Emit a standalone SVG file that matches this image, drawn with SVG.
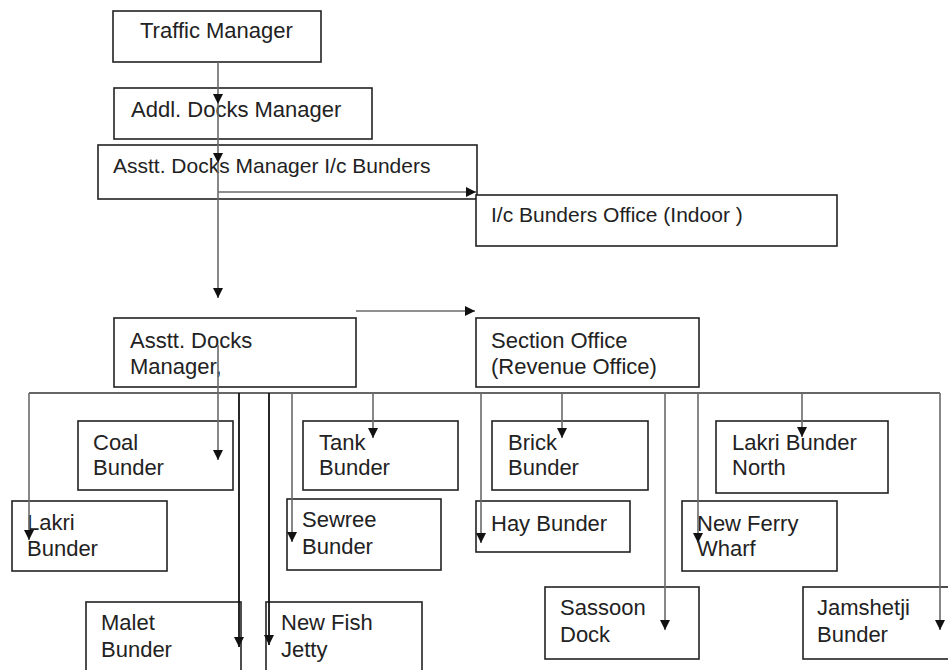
<svg xmlns="http://www.w3.org/2000/svg" width="948" height="670" viewBox="0 0 948 670">
<style>
rect.b{fill:#fff;stroke:#222;stroke-width:1.6}
text{font-family:"Liberation Sans",Arial,sans-serif;font-size:22px;fill:#222}
text.s{font-size:21px}
.c line{stroke:#6a6a6a;stroke-width:1.6;fill:none}
.c line.k{stroke:#111;stroke-width:1.8}
.c line.bus{stroke:#333;stroke-width:1.6}
</style>
<defs>
<marker id="ah" markerUnits="userSpaceOnUse" markerWidth="10" markerHeight="10" refX="10" refY="5" orient="auto">
<path d="M0,0 L10,5 L0,10 z" fill="#111"/>
</marker>
</defs>
<rect width="948" height="670" fill="#fff"/>
<g id="traffic-manager"><rect class="b" x="113" y="11" width="208" height="51"/><text x="140" y="38">Traffic Manager</text></g>
<g id="addl-docks-manager"><rect class="b" x="114" y="88" width="258" height="51"/><text x="131" y="117">Addl. Docks Manager</text></g>
<g id="asstt-docks-manager-ic"><rect class="b" x="98" y="145" width="379" height="54"/><text class="s" x="113" y="173">Asstt. Docks Manager I/c Bunders</text></g>
<g id="ic-bunders-office"><rect class="b" x="476" y="195" width="361" height="51"/><text class="s" x="491" y="222">I/c Bunders Office (Indoor )</text></g>
<g id="asstt-docks-manager"><rect class="b" x="114" y="318" width="242" height="69"/><text x="130" y="348">Asstt. Docks</text><text x="130" y="374">Manager,</text></g>
<g id="section-office"><rect class="b" x="476" y="318" width="223" height="69"/><text x="491" y="348">Section Office</text><text x="491" y="374">(Revenue Office)</text></g>
<g id="coal-bunder"><rect class="b" x="78" y="421" width="155" height="69"/><text x="93" y="450">Coal</text><text x="93" y="475">Bunder</text></g>
<g id="tank-bunder"><rect class="b" x="303" y="421" width="155" height="69"/><text x="319" y="450">Tank</text><text x="319" y="475">Bunder</text></g>
<g id="brick-bunder"><rect class="b" x="492" y="421" width="156" height="69"/><text x="508" y="450">Brick</text><text x="508" y="475">Bunder</text></g>
<g id="lakri-bunder-north"><rect class="b" x="716" y="421" width="172" height="72"/><text x="732" y="450">Lakri Bunder</text><text x="732" y="475">North</text></g>
<g id="lakri-bunder"><rect class="b" x="12" y="501" width="155" height="70"/><text x="27" y="530">Lakri</text><text x="27" y="556">Bunder</text></g>
<g id="sewree-bunder"><rect class="b" x="287" y="499" width="154" height="71"/><text x="302" y="527">Sewree</text><text x="302" y="554">Bunder</text></g>
<g id="hay-bunder"><rect class="b" x="476" y="501" width="154" height="51"/><text x="491" y="531">Hay Bunder</text></g>
<g id="new-ferry-wharf"><rect class="b" x="682" y="501" width="155" height="70"/><text x="697" y="531">New Ferry</text><text x="697" y="556">Wharf</text></g>
<g id="malet-bunder"><rect class="b" x="86" y="602" width="155" height="80"/><text x="101" y="630">Malet</text><text x="101" y="657">Bunder</text></g>
<g id="new-fish-jetty"><rect class="b" x="266" y="602" width="156" height="80"/><text x="281" y="630">New Fish</text><text x="281" y="657">Jetty</text></g>
<g id="sassoon-dock"><rect class="b" x="545" y="587" width="154" height="72"/><text x="560" y="615">Sassoon</text><text x="560" y="642">Dock</text></g>
<g id="jamshetji-bunder"><rect class="b" x="803" y="587" width="160" height="72"/><text x="817" y="615">Jamshetji</text><text x="817" y="642">Bunder</text></g>
<g class="c" id="connectors">
<line x1="218" y1="62" x2="218" y2="104" marker-end="url(#ah)"/>
<line x1="218" y1="104" x2="218" y2="163" marker-end="url(#ah)"/>
<line x1="218" y1="163" x2="218" y2="298" marker-end="url(#ah)"/>
<line x1="218" y1="192" x2="476" y2="192" marker-end="url(#ah)"/>
<line x1="356" y1="311" x2="475" y2="311" marker-end="url(#ah)"/>
<line class="bus" x1="29" y1="393" x2="940" y2="393"/>
<line x1="29" y1="393" x2="29" y2="540" marker-end="url(#ah)"/>
<line x1="218" y1="345" x2="218" y2="460" marker-end="url(#ah)"/>
<line class="k" x1="239" y1="393" x2="239" y2="647" marker-end="url(#ah)"/>
<line class="k" x1="269" y1="393" x2="269" y2="645" marker-end="url(#ah)"/>
<line x1="292" y1="393" x2="292" y2="542" marker-end="url(#ah)"/>
<line x1="373" y1="393" x2="373" y2="438" marker-end="url(#ah)"/>
<line x1="481" y1="393" x2="481" y2="543" marker-end="url(#ah)"/>
<line x1="562" y1="393" x2="562" y2="438" marker-end="url(#ah)"/>
<line x1="665" y1="393" x2="665" y2="630" marker-end="url(#ah)"/>
<line x1="698" y1="393" x2="698" y2="543" marker-end="url(#ah)"/>
<line x1="802" y1="393" x2="802" y2="437" marker-end="url(#ah)"/>
<line x1="940" y1="393" x2="940" y2="630" marker-end="url(#ah)"/>
</g>
</svg>
